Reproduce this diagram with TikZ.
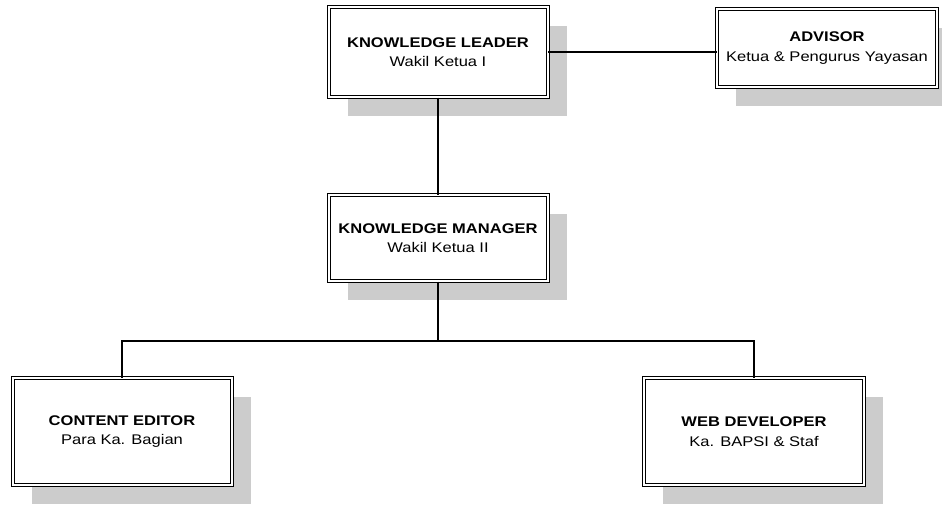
\documentclass[tikz,border=0pt]{standalone}
\usepackage{fontspec}
\setmainfont{Liberation Sans}[FakeStretch=1.18]
\usetikzlibrary{shadows}

\begin{document}
\begin{tikzpicture}[
    unit/.style={draw, double, double distance=2pt, line width=1pt,
                 fill=white, minimum width=219pt, align=center,
                 font=\fontsize{14}{19.5}\selectfont,
                 general shadow={fill=black!20, shadow xshift=19pt,
                                 shadow yshift=-19pt}},
    link/.style={line width=2pt},
    x=1pt, y=-1pt
  ]
  \useasboundingbox (0,0) rectangle (942,506);
  % top row
  \node[unit, minimum height=90pt] (leader) at (438, 52)
    {\textbf{KNOWLEDGE LEADER}\\Wakil Ketua I};
  \node[unit, minimum height=78pt, minimum width=220pt] (advisor) at (827, 48)
    {\textbf{ADVISOR}\\Ketua \& Pengurus Yayasan};
  % middle
  \node[unit, minimum height=86pt] (manager) at (438, 238)
    {\textbf{KNOWLEDGE MANAGER}\\Wakil Ketua II};
  % bottom row
  \node[unit, minimum height=107pt] (editor) at (122, 431.5)
    {\textbf{CONTENT EDITOR}\\Para Ka. Bagian};
  \node[unit, minimum height=107pt, minimum width=220pt] (webdev) at (754, 431.5)
    {\textbf{WEB DEVELOPER}\\Ka. BAPSI \& Staf};
  % connectors
  \coordinate (fork) at (438, 341);
  \draw[link] (leader.east) -- (leader.east -| advisor.west);
  \draw[link] (leader.south) -- (manager.north);
  \draw[link] (manager.south) -- (fork);
  \draw[link] (editor.north) |- (fork) -| (webdev.north);
\end{tikzpicture}
\end{document}
